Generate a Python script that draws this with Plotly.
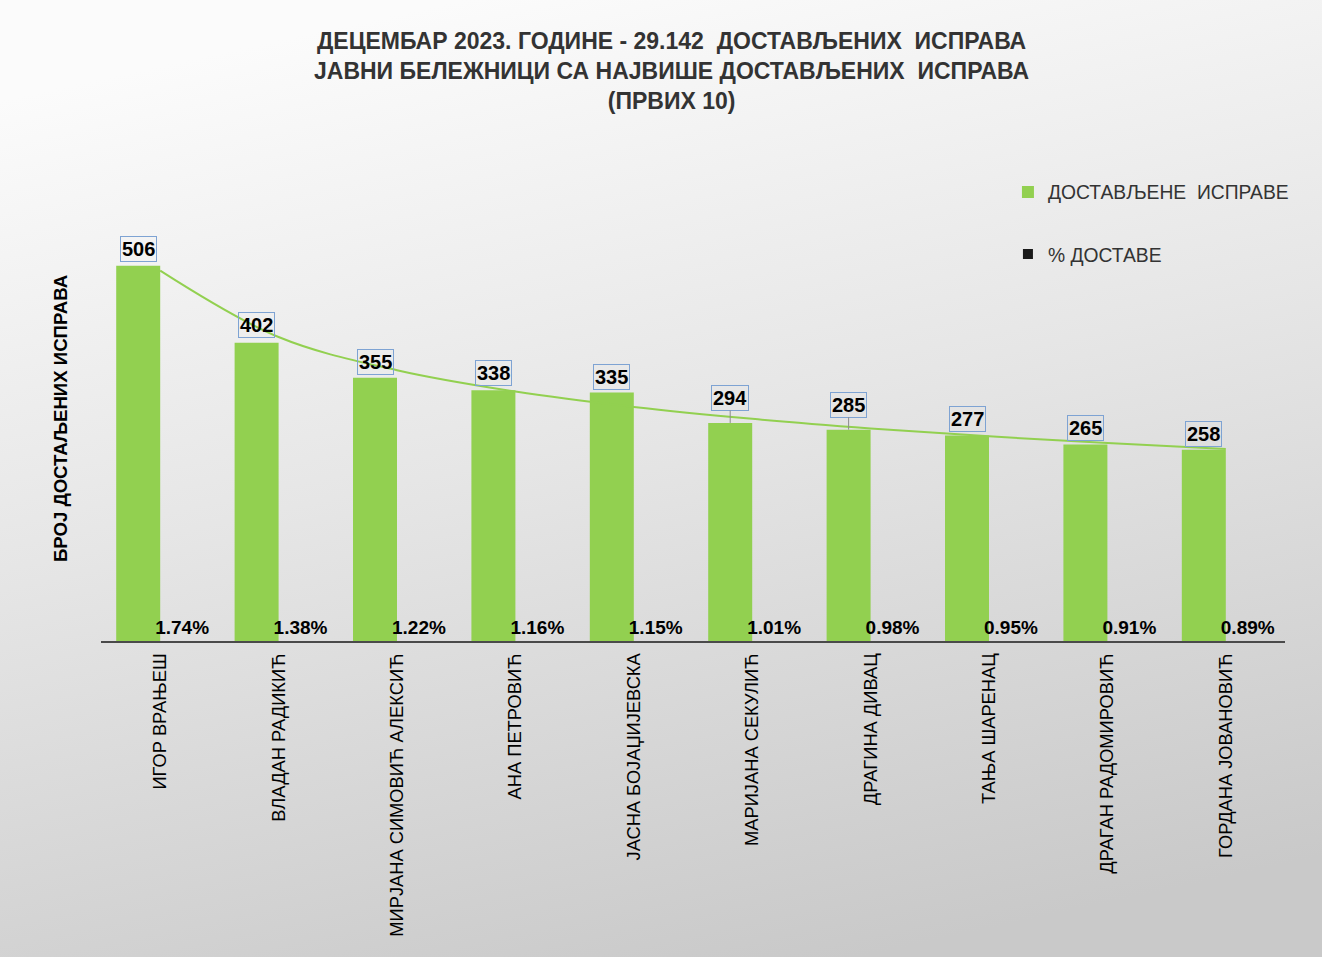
import base64
import numpy as np
import plotly.graph_objects as go

# ---- data ----
names = [
    "ИГОР ВРАЊЕШ",
    "ВЛАДАН РАДИКИЋ",
    "МИРЈАНА СИМОВИЋ АЛЕКСИЋ",
    "АНА ПЕТРОВИЋ",
    "ЈАСНА БОЈАЏИЈЕВСКА",
    "МАРИЈАНА СЕКУЛИЋ",
    "ДРАГИНА ДИВАЦ",
    "ТАЊА ШАРЕНАЦ",
    "ДРАГАН РАДОМИРОВИЋ",
    "ГОРДАНА ЈОВАНОВИЋ",
]
documents = [506, 402, 355, 338, 335, 294, 285, 277, 265, 258]
share = [0.0174, 0.0138, 0.0122, 0.0116, 0.0115, 0.0101, 0.0098, 0.0095, 0.0091, 0.0089]

title_lines = [
    "ДЕЦЕМБАР 2023. ГОДИНЕ - 29.142  ДОСТАВЉЕНИХ  ИСПРАВА",
    "ЈАВНИ БЕЛЕЖНИЦИ СА НАЈВИШЕ ДОСТАВЉЕНИХ  ИСПРАВА",
    "(ПРВИХ 10)",
]
series_names = ["ДОСТАВЉЕНЕ  ИСПРАВЕ", "% ДОСТАВЕ"]
y_title = "БРОЈ ДОСТАЉЕНИХ ИСПРАВА"

# power trendline (as in the spreadsheet) fitted to the document counts
rank = np.arange(1, len(documents) + 1)
b, ln_a = np.polyfit(np.log(rank), np.log(documents), 1)
trend = np.exp(ln_a) * rank ** b

# ---- style ----
W, H = 1322, 957
ML, MR, MT, MB = 101, 37, 196, 316
GREEN = "#92d050"
FONT = "Arial, Liberation Sans, sans-serif"
label_lift = [17, 18, 16, 17, 16, 25, 25, 17, 16, 16]

fig = go.Figure()
fig.add_trace(go.Bar(
    x=names, y=documents, name=series_names[0], legendgroup="a",
    marker=dict(color=GREEN, line=dict(width=0)),
    hoverinfo="x+y",
))
# share series: bars are far too small to be visible at this scale, only labels show
fig.add_trace(go.Bar(
    x=names, y=share, name=series_names[1], legendgroup="b", showlegend=False,
    marker=dict(color="rgba(0,0,0,0)", line=dict(width=0)),
    texttemplate="%{y:.2%}", textposition="outside", constraintext="none",
    textfont=dict(family=FONT, size=19, color="#000000", weight="bold"),
    cliponaxis=False,
))
# legend key for the share series
fig.add_trace(go.Scatter(
    x=[None], y=[None], mode="markers", name=series_names[1], legendgroup="b",
    marker=dict(symbol="square", size=10, color="#1a1a1a"),
))
fig.add_trace(go.Scatter(
    x=names, y=trend, mode="lines", line=dict(color=GREEN, width=2, shape="spline"),
    showlegend=False, hoverinfo="skip",
))

for i, (n, v) in enumerate(zip(names, documents)):
    lift = label_lift[i]
    ann = dict(
        x=n, y=v, xref="x", yref="y", text=f"<b>{v}</b>",
        font=dict(family=FONT, size=20, color="#000000"),
        bordercolor="#7ea3d3", borderwidth=1, borderpad=1,
        xshift=-22,
    )
    if lift > 20:
        ann.update(showarrow=True, ax=0, ay=-lift, arrowhead=0, arrowwidth=1,
                   arrowcolor="#8c8c8c", standoff=0)
    else:
        ann.update(showarrow=False, yshift=lift)
    fig.add_annotation(**ann)

# gradient background via inline SVG image
svg = (
    f'<svg xmlns="http://www.w3.org/2000/svg" width="{W}" height="{H}">'
    '<defs><linearGradient id="g" x1="0.35" y1="0" x2="0.65" y2="1">'
    '<stop offset="0" stop-color="#fbfbfb"/><stop offset="0.45" stop-color="#e6e6e6"/>'
    '<stop offset="1" stop-color="#c9c9c9"/></linearGradient></defs>'
    f'<rect width="{W}" height="{H}" fill="url(#g)"/></svg>'
)
src = "data:image/svg+xml;base64," + base64.b64encode(svg.encode()).decode()
pw, ph = W - ML - MR, H - MT - MB
fig.add_layout_image(dict(
    source=src, xref="paper", yref="paper",
    x=-ML / pw, y=1 + MT / ph, sizex=W / pw, sizey=H / ph,
    xanchor="left", yanchor="top", sizing="stretch", layer="below",
))

fig.update_layout(
    width=W, height=H,
    margin=dict(l=ML, r=MR, t=MT, b=MB, autoexpand=False),
    paper_bgcolor="#e8e8e8", plot_bgcolor="rgba(0,0,0,0)",
    barmode="group", bargap=0.257, bargroupgap=0,
    title=dict(
        text="<b>" + "<br>".join(title_lines) + "</b>",
        x=0.508, xanchor="center", y=0.949, yanchor="top",
        font=dict(family=FONT, size=23, color="#333333"),
    ),
    legend=dict(
        x=0.766, y=1.052, xanchor="left", yanchor="top",
        font=dict(family=FONT, size=19.3, color="#333333"),
        bgcolor="rgba(0,0,0,0)", tracegroupgap=34, itemwidth=30,
    ),
    font=dict(family=FONT),
    showlegend=True,
)
fig.update_xaxes(
    type="category", showgrid=False, zeroline=False,
    showline=True, linecolor="#4a4a4a", linewidth=2,
    ticks="", tickangle=-90, ticklabelstandoff=3,
    tickfont=dict(family=FONT, size=18.3, color="#000000"),
)
fig.update_yaxes(
    range=[0, 600], showgrid=False, zeroline=False, showline=False,
    showticklabels=False, ticks="",
    title=dict(text=f"<b>{y_title}</b>", standoff=27,
               font=dict(family=FONT, size=18.6, color="#000000")),
)

fig.write_html(
    "out.html",
    config={"displayModeBar": False},
    post_script="document.body.style.margin='0';document.body.style.overflow='hidden';",
)
